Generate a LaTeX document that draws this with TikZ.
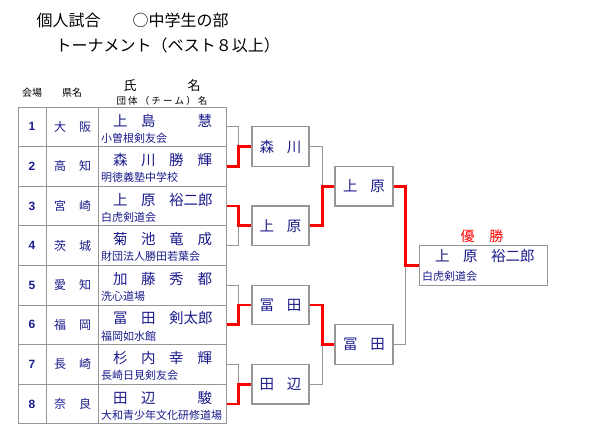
\documentclass[tikz,border=0pt]{standalone}
\usepackage{fontspec}
\setmainfont{Noto Sans CJK JP}
\newfontfamily\numfont{Liberation Sans}
\usetikzlibrary{positioning,calc}

\definecolor{inkblue}{RGB}{28,28,140}
\definecolor{rulegray}{RGB}{150,150,150}

\newcommand{\fullname}[3]{\makebox[28pt][l]{#1}\makebox[28pt][l]{#2}\makebox[43pt][s]{#3}}
\newcommand{\namefont}{\fontsize{14.5}{15}\selectfont}
\newcommand{\teamfont}{\fontsize{11}{12}\selectfont}

\begin{document}
\begin{tikzpicture}[
    x=1pt, y=-1pt,
    cell/.style={rectangle, draw=rulegray, line width=1pt, fill=white, inner sep=0pt, minimum height=39.6pt},
    matchbox/.style={rectangle, draw=rulegray, line width=1.3pt, fill=white, inner sep=0pt, minimum width=57pt, minimum height=39.6pt, text=inkblue, font=\namefont},
    label/.style={inner sep=0pt, text=inkblue},
    loser/.style={draw=rulegray, line width=1pt},
    winner/.style={draw=red, line width=2.8pt}
]
\useasboundingbox (0,0) rectangle (600,440);

% Title
\node[anchor=west, font=\fontsize{16}{16}\selectfont] (title) at (33,20) {個人試合　　○中学生の部};
\node[anchor=west, font=\fontsize{16}{16}\selectfont] (subtitle) at (52,45) {トーナメント（ベスト８以上）};

% Table header
\node[font=\fontsize{10}{10}\selectfont] (hvenue) at (32,93) {会場};
\node[font=\fontsize{10}{10}\selectfont] (hpref) at (72,93) {県名};
\node[font=\fontsize{13}{13}\selectfont] (hname) at (130,86) {氏};
\node[font=\fontsize{13}{13}\selectfont] (hname2) at (194,86) {名};
\node[font=\fontsize{9.5}{10}\selectfont] (hteam) at (162,101) {団 体 （ チ ー ム ） 名};

% Table rows
\foreach \i/\prA/\prB/\snA/\snB/\given/\team in {
    1/大/阪/上/島/{\hfill 慧}/小曽根剣友会,
    2/高/知/森/川/{勝\hfill 輝}/明徳義塾中学校,
    3/宮/崎/上/原/{裕二郎}/白虎剣道会,
    4/茨/城/菊/池/{竜\hfill 成}/財団法人勝田若葉会,
    5/愛/知/加/藤/{秀\hfill 都}/洗心道場,
    6/福/岡/冨/田/{剣太郎}/福岡如水館,
    7/長/崎/杉/内/{幸\hfill 輝}/長崎日見剣友会,
    8/奈/良/田/辺/{\hfill 駿}/大和青少年文化研修道場}{
  \pgfmathsetmacro{\yt}{107+(\i-1)*39.6}
  \pgfmathsetmacro{\yc}{\yt+19.8}
  \node[cell, minimum width=28pt] (v\i) at (32,\yc) {};
  \node[cell, minimum width=52pt] (p\i) at (72,\yc) {};
  \node[cell, minimum width=128pt] (n\i) at (162,\yc) {};
  \node[label, font=\numfont\bfseries\fontsize{12}{12}\selectfont] (num\i) at (v\i) {\i};
  \node[label, font=\fontsize{12}{12}\selectfont] (pa\i) at (60,\yc) {\prA};
  \node[label, font=\fontsize{12}{12}\selectfont] (pb\i) at (85,\yc) {\prB};
  \node[label, anchor=west, font=\namefont] (nm\i) at (113,{\yt+13.5}) {\fullname{\snA}{\snB}{\given}};
  \node[label, anchor=west, font=\teamfont] (tm\i) at (101,{\yt+31}) {\team};
}

% Match boxes
\node[matchbox] (r1) at (280.5,146.6) {森\hspace{13pt}川};
\node[matchbox] (r2) at (280.5,225.8) {上\hspace{13pt}原};
\node[matchbox] (r3) at (280.5,305) {冨\hspace{13pt}田};
\node[matchbox] (r4) at (280.5,384.2) {田\hspace{13pt}辺};
\node[matchbox, minimum width=58pt] (s1) at (364,186.2) {上\hspace{13pt}原};
\node[matchbox, minimum width=58pt] (s2) at (364,344.6) {冨\hspace{13pt}田};

% Champion
\node[cell, minimum width=128pt] (champ) at (483,265.4) {};
\node[label, anchor=west, font=\namefont] (chname) at (435,256) {\fullname{上}{原}{裕二郎}};
\node[label, anchor=west, font=\teamfont] (chteam) at (422,276) {白虎剣道会};
\node[text=red, inner sep=0pt, font=\fontsize{14}{14}\selectfont] (yusho) at (482,236) {優\hspace{15pt}勝};

% Bracket lines
\draw[loser] (n1.east) -- ++(12,0) |- (r1.west);
\draw[loser] (n4.east) -- ++(12,0) |- (r2.west);
\draw[loser] (n5.east) -- ++(12,0) |- (r3.west);
\draw[loser] (n7.east) -- ++(12,0) |- (r4.west);
\draw[loser] (r1.east) -- ++(13,0) |- (s1.west);
\draw[loser] (r4.east) -- ++(13,0) |- (s2.west);
\draw[loser] (s2.east) -- ++(12,0) |- (champ.west);
\draw[winner] (n2.east) -- ++(12,0) |- (r1.west);
\draw[winner] (n3.east) -- ++(12,0) |- (r2.west);
\draw[winner] (n6.east) -- ++(12,0) |- (r3.west);
\draw[winner] (n8.east) -- ++(12,0) |- (r4.west);
\draw[winner] (r2.east) -- ++(13,0) |- (s1.west);
\draw[winner] (r3.east) -- ++(13,0) |- (s2.west);
\draw[winner] (s1.east) -- ++(12,0) |- (champ.west);

\end{tikzpicture}
\end{document}
